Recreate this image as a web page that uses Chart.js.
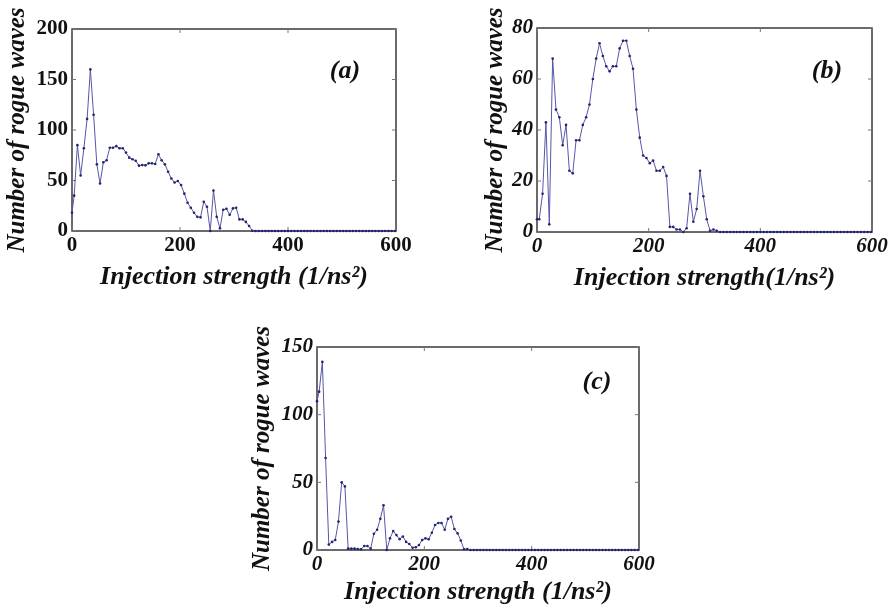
<!DOCTYPE html>
<html>
<head>
<meta charset="utf-8">
<script src="https://cdn.jsdelivr.net/npm/chart.js@4.4.1/dist/chart.umd.min.js"></script>
<style>
  html, body { margin: 0; padding: 0; background: #fff; }
  body { width: 891px; height: 612px; position: relative; overflow: hidden; }
  .box { position: absolute; }
  canvas { display: block; }
</style>
</head>
<body>
<div class="box" style="left:0px;top:0px;"><canvas id="ca" width="446" height="300"></canvas></div>
<div class="box" style="left:446px;top:0px;"><canvas id="cb" width="445" height="300"></canvas></div>
<div class="box" style="left:220px;top:305px;"><canvas id="cc" width="450" height="307"></canvas></div>
<script>
// Injection strength (1/ns^2) sample positions, shared by all panels
const injection = [0, 4, 10, 16, 22, 28, 34, 40, 46, 52, 58, 64, 70, 76, 82, 88, 94, 100,
  106, 112, 118, 124, 130, 136, 142, 148, 154, 160, 166, 172, 178, 184, 190, 196, 202,
  208, 214, 220, 226, 232, 238, 244, 250, 256, 262, 268, 274, 280, 286, 292, 298, 304,
  310, 316, 322, 328, 334, 340, 346, 352, 358, 364, 370, 376, 382, 388, 394, 400, 406,
  412, 418, 424, 430, 436, 442, 448, 454, 460, 466, 472, 478, 484, 490, 496, 502, 508,
  514, 520, 526, 532, 538, 544, 550, 556, 562, 568, 574, 580, 586, 592, 598];

// Panel (a): number of rogue waves
const rogueA = [18, 35, 85, 55, 82, 111, 160, 115, 66, 47, 68, 70, 82.5, 82.5, 84, 82, 82,
  77.6, 72.6, 71, 69.6, 64.7, 65.3, 65, 67, 67, 66.3, 76, 70, 66, 58.7, 52, 48, 49.5, 45.5,
  37, 28, 23, 18, 14, 13.5, 29, 24, 0, 40, 14, 2.6, 21, 22, 16, 22.4, 23, 11.5, 11.5, 9, 5,
  0.3, 0,
  0, 0, 0, 0, 0, 0, 0, 0, 0, 0, 0, 0, 0, 0, 0, 0, 0, 0, 0, 0, 0, 0, 0, 0, 0, 0, 0, 0, 0, 0,
  0, 0, 0, 0, 0, 0, 0, 0, 0, 0, 0, 0, 0];

// Panel (b)
const rogueB = [5, 5, 15, 43, 3, 68, 48, 45, 34, 42, 24, 23, 36, 36, 42, 45, 50, 60, 68, 74,
  69, 65, 63, 65, 65, 72, 75, 75, 69, 64, 48, 37, 30, 29, 27, 28, 24, 24, 25.5, 22, 2, 2,
  1, 1, 0, 1.5, 15, 4, 9, 24, 14, 5, 0.5, 1, 0.5, 0, 0, 0,
  0, 0, 0, 0, 0, 0, 0, 0, 0, 0, 0, 0, 0, 0, 0, 0, 0, 0, 0, 0, 0, 0, 0, 0, 0, 0, 0, 0, 0, 0,
  0, 0, 0, 0, 0, 0, 0, 0, 0, 0, 0, 0, 0];

// Panel (c)
const rogueC = [110, 117, 139, 68, 4, 6, 7.4, 21, 50, 47, 1, 1, 1, 0.7, 0.5, 3, 3, 1, 12, 15,
  23, 33, 0, 8.6, 14, 11, 8, 10, 6, 4.4, 1.7, 2, 3.7, 7.4, 8.6, 7.9, 12.8, 18.5, 20, 20, 15,
  23, 24.6, 15.5, 12.3, 7, 0.5, 0.7, 0, 0, 0, 0, 0, 0, 0, 0, 0, 0,
  0, 0, 0, 0, 0, 0, 0, 0, 0, 0, 0, 0, 0, 0, 0, 0, 0, 0, 0, 0, 0, 0, 0, 0, 0, 0, 0, 0, 0, 0,
  0, 0, 0, 0, 0, 0, 0, 0, 0, 0, 0, 0, 0];

const xTicks = [0, 200, 400, 600];
const yTicksA = [0, 50, 100, 150, 200];
const yTicksB = [0, 20, 40, 60, 80];
const yTicksC = [0, 50, 100, 150];

const panelLabels = ['(a)', '(b)', '(c)'];
const yTitle = 'Number of rogue waves';
const xTitleA = 'Injection strength (1/ns\u00B2)';
const xTitleB = 'Injection strength(1/ns\u00B2)';
const xTitleC = 'Injection strength (1/ns\u00B2)';

const SERIF = "'Liberation Serif', 'Times New Roman', serif";

const framePlugin = {
  id: 'frame',
  beforeDatasetsDraw(chart, args, opts) {
    const { ctx, chartArea: a, scales: { x, y } } = chart;
    ctx.save();
    ctx.strokeStyle = '#3a3a3a';
    ctx.lineWidth = 1.5;
    ctx.strokeRect(a.left, a.top, a.right - a.left, a.bottom - a.top);
    ctx.lineWidth = 1;
    ctx.strokeStyle = '#777';
    ctx.beginPath();
    x.ticks.forEach(t => {
      const px = x.getPixelForValue(t.value);
      ctx.moveTo(px, a.bottom); ctx.lineTo(px, a.bottom - 4);
      ctx.moveTo(px, a.top); ctx.lineTo(px, a.top + 4);
    });
    y.ticks.forEach(t => {
      const py = y.getPixelForValue(t.value);
      ctx.moveTo(a.left, py); ctx.lineTo(a.left + 4, py);
      ctx.moveTo(a.right, py); ctx.lineTo(a.right - 4, py);
    });
    ctx.stroke();
    ctx.restore();
  },
  afterDatasetsDraw(chart, args, opts) {
    const { ctx, chartArea: a } = chart;
    ctx.save();
    ctx.fillStyle = '#111';
    ctx.font = 'italic bold 26px ' + SERIF;
    ctx.textAlign = 'center';
    ctx.textBaseline = 'middle';
    ctx.fillText(opts.label, a.right - opts.dx, a.top + opts.dy);
    ctx.restore();
  }
};

function makeChart(id, values, yTicks, yMax, cfg) {
  const pts = injection.map((x, i) => ({ x: x, y: values[i] }));
  return new Chart(document.getElementById(id), {
    type: 'scatter',
    data: {
      datasets: [{
        data: pts,
        showLine: true,
        borderColor: '#5656a8',
        borderWidth: 1,
        pointRadius: 1.3,
        pointBackgroundColor: '#232370',
        pointBorderColor: '#232370',
        pointBorderWidth: 0,
        tension: 0,
        clip: 6
      }]
    },
    plugins: [framePlugin],
    options: {
      responsive: false,
      devicePixelRatio: 1,
      animation: false,
      events: [],
      layout: { padding: cfg.padding },
      plugins: {
        legend: { display: false },
        tooltip: { enabled: false },
        frame: { label: cfg.label, dx: cfg.labelDx, dy: cfg.labelDy }
      },
      scales: {
        x: {
          type: 'linear',
          min: 0, max: 600,
          border: { display: false },
          grid: { display: false, drawTicks: false },
          afterBuildTicks: s => { s.ticks = xTicks.map(v => ({ value: v })); },
          ticks: {
            padding: cfg.xTickPad,
            color: '#111',
            font: { family: SERIF, size: 21, weight: 'bold', style: cfg.tickStyle },
            maxRotation: 0, autoSkip: false
          },
          title: {
            display: true, text: cfg.xTitle, color: '#111',
            font: { family: SERIF, size: 26, weight: 'bold', style: 'italic' },
            padding: { top: 0, bottom: cfg.xTitlePad }
          },
          afterFit: s => { s.height = cfg.xHeight; }
        },
        y: {
          type: 'linear',
          min: 0, max: yMax,
          border: { display: false },
          grid: { display: false, drawTicks: false },
          afterBuildTicks: s => { s.ticks = yTicks.map(v => ({ value: v })); },
          ticks: {
            padding: 4,
            color: '#111',
            font: { family: SERIF, size: 21, weight: 'bold', style: cfg.tickStyle },
            autoSkip: false
          },
          title: {
            display: true, text: yTitle, color: '#111',
            font: { family: SERIF, size: 25, weight: 'bold', style: 'italic' },
            padding: { top: cfg.yTitlePad, bottom: 0 }
          },
          afterFit: s => { s.width = cfg.yWidth; }
        }
      }
    }
  });
}

makeChart('ca', rogueA, yTicksA, 200, {
  padding: { left: 0, top: 29, right: 50, bottom: 0 },
  yWidth: 72, xHeight: 69, xTickPad: 2, xTitlePad: 7, yTitlePad: 3,
  xTitle: xTitleA, tickStyle: 'normal', label: panelLabels[0], labelDx: 51, labelDy: 42
});
makeChart('cb', rogueB, yTicksB, 80, {
  padding: { left: 0, top: 28, right: 19, bottom: 0 },
  yWidth: 91, xHeight: 68, xTickPad: 2, xTitlePad: 6, yTitlePad: 35,
  xTitle: xTitleB, tickStyle: 'italic', label: panelLabels[1], labelDx: 45, labelDy: 43
});
makeChart('cc', rogueC, yTicksC, 150, {
  padding: { left: 0, top: 42, right: 31, bottom: 0 },
  yWidth: 97, xHeight: 62, xTickPad: 2, xTitlePad: 4, yTitlePad: 28,
  xTitle: xTitleC, tickStyle: 'italic', label: panelLabels[2], labelDx: 42, labelDy: 35
});
</script>
</body>
</html>
